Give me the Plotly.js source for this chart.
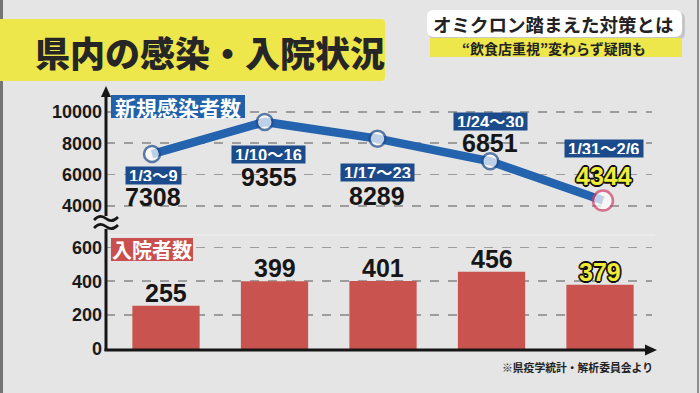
<!DOCTYPE html>
<html>
<head>
<meta charset="utf-8">
<script src="https://cdn.plot.ly/plotly-3.0.1.min.js"></script>
<style>html,body{margin:0;padding:0;background:#e5e5e5;}#chart{width:700px;height:393px;}</style>
</head>
<body>
<div id="chart"></div>
<script>
// ---- data ----
const weeks = ['1/3～9', '1/10～16', '1/17～23', '1/24～30', '1/31～2/6'];
const newCases = [7308, 9355, 8289, 6851, 4344];
const inpatients = [255, 399, 401, 456, 379];
const caseTicks = [4000, 6000, 8000, 10000];
const inpatientTicks = [0, 200, 400, 600];
const titleText = '県内の感染・入院状況';
const headline = 'オミクロン踏まえた対策とは';
const subHeadline = '“飲食店重視”変わらず疑問も';
const caseLabel = '新規感染者数';
const inpatientLabel = '入院者数';
const sourceNote = '※県疫学統計・解析委員会より';

// ---- layout helpers (pixel -> paper) ----
const W = 700, H = 393;
const X = p => p / W;
const Y = p => 1 - p / H;
const JP = 'Noto Sans CJK JP, Noto Sans, sans-serif';
const NUM = 'Liberation Sans, Arial, Noto Sans CJK JP, sans-serif';
const INK = '#161616';
const YELLOW = '#ede74b';
const outline = '1.6px 0 0 #111, -1.6px 0 0 #111, 0 1.6px 0 #111, 0 -1.6px 0 #111, 1.2px 1.2px 0 #111, -1.2px -1.2px 0 #111, 1.2px -1.2px 0 #111, -1.2px 1.2px 0 #111';
const last = newCases.length - 1;

// label placement (pixels below point; negative = above)
const dateOffset = [21, 33, 34, -40, -52];
const valueOffset = [43, 55, 57, -18, -25];
const labelXShift = [1, 4, 0, 0, 1];

function rrect(x0, y0, x1, y1, r) {
  const p = (x, y) => X(x) + ',' + Y(y);
  return 'M' + p(x0 + r, y0) + ' L' + p(x1 - r, y0) + ' Q' + p(x1, y0) + ' ' + p(x1, y0 + r) +
    ' L' + p(x1, y1 - r) + ' Q' + p(x1, y1) + ' ' + p(x1 - r, y1) +
    ' L' + p(x0 + r, y1) + ' Q' + p(x0, y1) + ' ' + p(x0, y1 - r) +
    ' L' + p(x0, y0 + r) + ' Q' + p(x0, y0) + ' ' + p(x0 + r, y0) + ' Z';
}
function tri(pts) {
  return 'M' + pts.map(q => X(q[0]) + ',' + Y(q[1])).join(' L') + ' Z';
}
function wave(x0, x1, y) {
  const m = (x0 + x1) / 2, a = (x1 - x0) / 4;
  const p = (x, yy) => X(x) + ',' + Y(yy);
  return 'M' + p(x0, y + 1.5) + ' Q' + p(x0 + a, y - 5) + ' ' + p(m, y) + ' Q' + p(x1 - a, y + 5) + ' ' + p(x1, y - 1.5);
}

const bars = {
  type: 'bar', x: weeks, y: inpatients, xaxis: 'x', yaxis: 'y',
  width: 0.62, marker: {color: '#c9534f'}, hoverinfo: 'none'
};
const line = {
  type: 'scatter', mode: 'lines+markers', x: weeks, y: newCases, xaxis: 'x2', yaxis: 'y2',
  line: {color: '#2463ae', width: 8.5},
  marker: {
    size: newCases.map((v, i) => i === last ? 20 : 16),
    color: '#ffffff',
    line: {color: newCases.map((v, i) => i === last ? '#d0406a' : '#1d4c8c'), width: 2.5}
  },
  cliponaxis: false, hoverinfo: 'none'
};

const annotations = [];
// line labels
weeks.forEach((w, i) => {
  annotations.push({
    x: w, y: newCases[i], xref: 'x2', yref: 'y2', showarrow: false,
    text: w, yshift: -dateOffset[i], xshift: labelXShift[i],
    font: {family: NUM, size: 16.5, color: '#ffffff', weight: 700},
    bgcolor: '#1b4b8b', borderpad: 3, height: 11
  });
  annotations.push({
    x: w, y: newCases[i], xref: 'x2', yref: 'y2', showarrow: false,
    text: String(newCases[i]), yshift: -valueOffset[i], xshift: labelXShift[i],
    font: {family: NUM, size: 25, weight: 700,
      color: i === last ? '#f1ec3a' : INK,
      shadow: i === last ? outline : 'none'}
  });
});
// bar labels
weeks.forEach((w, i) => {
  annotations.push({
    x: w, y: inpatients[i], xref: 'x', yref: 'y', showarrow: false, yanchor: 'bottom', yshift: -3,
    text: String(inpatients[i]),
    font: {family: NUM, size: 25, weight: 700,
      color: i === last ? '#f1ec3a' : INK,
      shadow: i === last ? outline : 'none'}
  });
});
// texts in paper space
annotations.push(
  {xref: 'paper', yref: 'paper', x: X(33), y: Y(51), xanchor: 'left', yanchor: 'middle', showarrow: false,
    text: titleText, font: {family: JP, size: 35, weight: 900, color: '#262626'}},
  {xref: 'paper', yref: 'paper', x: X(553), y: Y(24), xanchor: 'center', yanchor: 'middle', showarrow: false,
    text: headline, font: {family: JP, size: 18.5, weight: 700, color: '#222222'}},
  {xref: 'paper', yref: 'paper', x: X(554), y: Y(47.5), xanchor: 'center', yanchor: 'middle', showarrow: false,
    text: subHeadline, font: {family: JP, size: 14, weight: 700, color: '#222222'}},
  {xref: 'paper', yref: 'paper', x: X(178), y: Y(106.5), xanchor: 'center', yanchor: 'middle', showarrow: false,
    text: caseLabel, font: {family: JP, size: 21, weight: 700, color: '#ffffff'}},
  {xref: 'paper', yref: 'paper', x: X(152), y: Y(249.5), xanchor: 'center', yanchor: 'middle', showarrow: false,
    text: inpatientLabel, font: {family: JP, size: 20, weight: 700, color: '#ffffff'}},
  {xref: 'paper', yref: 'paper', x: X(655), y: Y(367), xanchor: 'right', yanchor: 'middle', showarrow: false,
    text: sourceNote, font: {family: JP, size: 10.8, weight: 700, color: '#222222'}}
);

const shapes = [
  // frame edges
  {type: 'line', xref: 'paper', yref: 'paper', x0: X(1.5), x1: X(1.5), y0: 0, y1: 1, line: {color: '#747474', width: 3}},
  {type: 'line', xref: 'paper', yref: 'paper', x0: X(698), x1: X(698), y0: 0, y1: 1, line: {color: '#8e8e8e', width: 2}},
  // panel separator
  {type: 'line', xref: 'paper', yref: 'paper', x0: X(108), x1: X(655), y0: Y(235), y1: Y(235), line: {color: '#f1f1f1', width: 1}, layer: 'below'},
  // title box
  {type: 'path', xref: 'paper', yref: 'paper', path: rrect(-10, 19, 385, 81, 4), fillcolor: YELLOW, line: {width: 0}},
  // headline boxes
  {type: 'path', xref: 'paper', yref: 'paper', path: rrect(429, 12, 685, 40, 7), fillcolor: '#b9b9b9', opacity: 0.7, line: {width: 0}},
  {type: 'path', xref: 'paper', yref: 'paper', path: rrect(427, 10, 682, 37, 7), fillcolor: '#ffffff', line: {width: 0}},
  {type: 'rect', xref: 'paper', yref: 'paper', x0: X(430), x1: X(682), y0: Y(38), y1: Y(57), fillcolor: YELLOW, line: {width: 0}},
  // series label boxes
  {type: 'rect', xref: 'paper', yref: 'paper', x0: X(111), x1: X(245), y0: Y(95), y1: Y(118), fillcolor: '#2161ab', line: {width: 0}},
  {type: 'rect', xref: 'paper', yref: 'paper', x0: X(111), x1: X(193), y0: Y(238), y1: Y(261), fillcolor: '#c9504e', line: {width: 0}},
  // y axis (broken) with arrow
  {type: 'line', xref: 'paper', yref: 'paper', x0: X(106), x1: X(106), y0: Y(351), y1: Y(229), line: {color: INK, width: 3}},
  {type: 'line', xref: 'paper', yref: 'paper', x0: X(106), x1: X(106), y0: Y(216), y1: Y(95), line: {color: INK, width: 3}},
  {type: 'path', xref: 'paper', yref: 'paper', path: tri([[106, 86], [101, 97], [111, 97]]), fillcolor: INK, line: {width: 0}},
  // axis break mark
  {type: 'path', xref: 'paper', yref: 'paper', path: wave(94, 118, 218.5), line: {color: INK, width: 2.6}},
  {type: 'path', xref: 'paper', yref: 'paper', path: wave(94, 118, 226.5), line: {color: INK, width: 2.6}},
  // x axis with arrow
  {type: 'line', xref: 'paper', yref: 'paper', x0: X(104.5), x1: X(646), y0: Y(350), y1: Y(350), line: {color: INK, width: 3}},
  {type: 'path', xref: 'paper', yref: 'paper', path: tri([[657, 350], [645, 344.5], [645, 355.5]]), fillcolor: INK, line: {width: 0}}
];

const tickFont = {family: NUM, size: 18, weight: 700, color: '#1a1a1a'};
const layout = {
  width: W, height: H, margin: {l: 0, r: 0, t: 0, b: 0},
  paper_bgcolor: '#e5e5e5', plot_bgcolor: 'rgba(0,0,0,0)',
  showlegend: false, font: {family: JP},
  xaxis: {type: 'category', domain: [X(106), X(652)], range: [-0.553, 4.479], anchor: 'y',
    showticklabels: false, showgrid: false, zeroline: false, showline: false, ticks: '', fixedrange: true},
  xaxis2: {type: 'category', domain: [X(106), X(652)], range: [-0.408, 4.435], anchor: 'y2',
    showticklabels: false, showgrid: false, zeroline: false, showline: false, ticks: '', fixedrange: true},
  yaxis: {domain: [Y(349), Y(240)], range: [0, 643], anchor: 'x', tickvals: inpatientTicks,
    ticktext: inpatientTicks.map(String), tickfont: tickFont, ticks: '', ticklabelstandoff: 3,
    showgrid: true, gridcolor: '#9d9d9d', griddash: 'dash', gridwidth: 1.5, zeroline: false, showline: false},
  yaxis2: {domain: [Y(225), Y(95)], range: [2790, 11070], anchor: 'x2', tickvals: caseTicks,
    ticktext: caseTicks.map(String), tickfont: tickFont, ticks: '', ticklabelstandoff: 3,
    showgrid: true, gridcolor: '#9d9d9d', griddash: 'dash', gridwidth: 1.5, zeroline: false, showline: false},
  shapes: shapes,
  annotations: annotations
};

Plotly.newPlot('chart', [bars, line], layout, {staticPlot: true, displayModeBar: false});
</script>
</body>
</html>
